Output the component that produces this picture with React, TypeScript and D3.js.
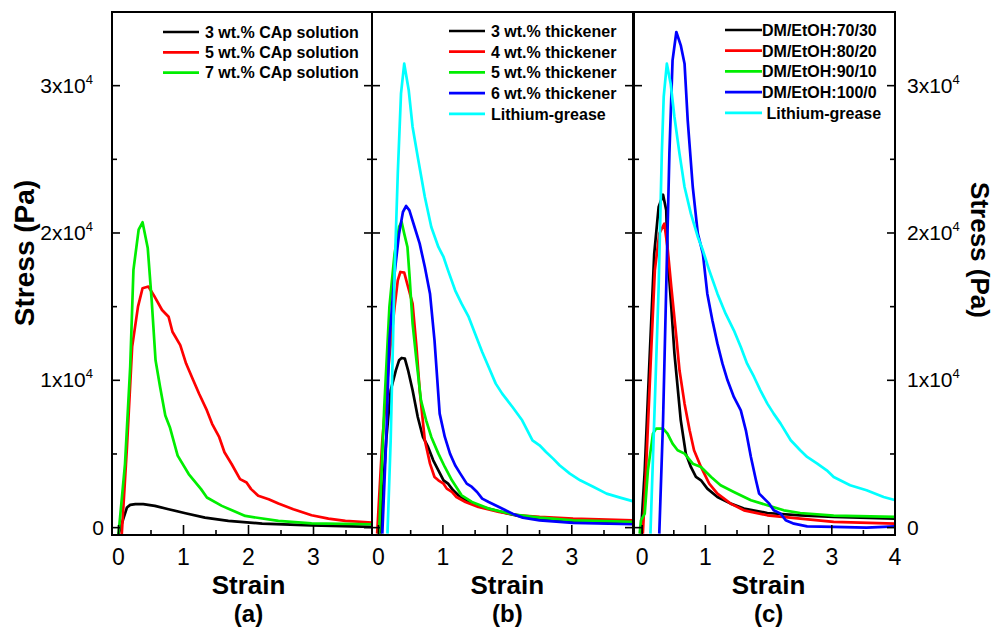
import React from "react";
import * as d3 from "d3";

type Pt = [number, number];

// Panel (a): CAp solution concentration
const aLabels = ["3 wt.% CAp solution", "5 wt.% CAp solution", "7 wt.% CAp solution"];
const aColors = ["#000000", "#ff0000", "#00ee00"];
const a3: Pt[] = [[0,-455],[0.08,682],[0.13,1364],[0.18,1545],[0.26,1591],[0.38,1591],[0.56,1477],[0.77,1250],[1.03,977],[1.33,682],[1.69,455],[2.21,273],[2.97,159],[3.93,45]];
const a5: Pt[] = [[0.05,-455],[0.13,5455],[0.21,12273],[0.30,15000],[0.37,16250],[0.46,16364],[0.54,15795],[0.67,14773],[0.77,14318],[0.83,13295],[0.95,12386],[1.04,11136],[1.15,10000],[1.24,9091],[1.36,7955],[1.44,7045],[1.55,6136],[1.63,5114],[1.74,4318],[1.87,3295],[1.97,3068],[2.04,2614],[2.15,2159],[2.31,1932],[2.46,1636],[2.69,1250],[2.97,841],[3.23,614],[3.49,455],[3.93,341]];
const a7: Pt[] = [[0,-455],[0.10,4318],[0.18,10909],[0.23,17500],[0.31,20227],[0.37,20727],[0.45,18977],[0.51,15455],[0.57,11364],[0.64,9545],[0.72,7614],[0.79,6818],[0.91,4886],[1.08,3636],[1.27,2614],[1.36,2045],[1.59,1477],[1.95,795],[2.46,455],[2.97,295],[3.93,227]];

// Panel (b): thickener content
const bLabels = ["3 wt.% thickener", "4 wt.% thickener", "5 wt.% thickener", "6 wt.% thickener", "Lithium-grease"];
const bColors = ["#000000", "#ff0000", "#00ee00", "#0000ff", "#00ffff"];
const b3: Pt[] = [[0.03,-407],[0.12,5928],[0.19,9321],[0.27,10679],[0.32,11357],[0.36,11516],[0.41,11471],[0.46,10679],[0.53,9321],[0.61,7511],[0.69,6154],[0.77,5475],[0.85,4570],[0.93,3891],[1.01,3213],[1.08,2986],[1.16,2534],[1.24,2195],[1.40,1742],[1.61,1403],[1.97,995],[2.24,724],[2.50,611],[3.02,385],[3.99,271]];
const b4: Pt[] = [[-0.02,-407],[0.06,5928],[0.17,11584],[0.25,14977],[0.30,16787],[0.34,17353],[0.40,17308],[0.46,16335],[0.53,15204],[0.59,12262],[0.64,9321],[0.72,5928],[0.80,4344],[0.87,3439],[0.93,3213],[1.01,2986],[1.06,2647],[1.14,2421],[1.21,2081],[1.35,1742],[1.55,1403],[1.87,1063],[2.18,837],[2.50,724],[3.02,611],[3.99,498]];
const b5: Pt[] = [[0.01,-407],[0.09,8190],[0.17,14977],[0.25,18597],[0.32,20407],[0.36,20747],[0.40,19955],[0.45,19050],[0.48,17240],[0.53,13846],[0.59,11357],[0.66,8643],[0.74,7285],[0.82,6154],[0.93,5023],[1.03,4118],[1.14,3213],[1.29,2195],[1.45,1742],[1.71,1290],[2.08,905],[2.50,679],[3.02,498],[3.99,385]];
const b6: Pt[] = [[0.06,-407],[0.12,5928],[0.17,12715],[0.25,17240],[0.32,19955],[0.38,21425],[0.43,21833],[0.48,21538],[0.56,20407],[0.64,19276],[0.72,17692],[0.80,15882],[0.87,12715],[0.95,7738],[1.03,6154],[1.11,5023],[1.19,4231],[1.27,3665],[1.37,2986],[1.45,2760],[1.53,2421],[1.61,1968],[1.71,1742],[1.87,1403],[2.08,950],[2.24,679],[2.50,498],[3.02,317],[3.99,226]];
const bLi: Pt[] = [[0.14,-407],[0.19,5928],[0.25,17240],[0.30,24027],[0.35,29457],[0.40,31493],[0.47,29683],[0.53,27195],[0.61,25158],[0.72,22443],[0.82,20407],[0.93,19050],[1.01,18371],[1.08,17466],[1.19,16109],[1.29,15204],[1.40,14299],[1.50,13167],[1.61,11923],[1.71,10905],[1.82,9774],[1.92,9095],[2.08,8190],[2.23,7285],[2.39,5928],[2.50,5588],[2.60,5136],[2.71,4683],[2.81,4231],[2.97,3665],[3.13,3213],[3.34,2760],[3.54,2308],[3.75,2036],[3.99,1742]];

// Panel (c): DM/EtOH ratio
const cLabels = ["DM/EtOH:70/30", "DM/EtOH:80/20", "DM/EtOH:90/10", "DM/EtOH:100/0", " Lithium-grease"];
const cColors = ["#000000", "#ff0000", "#00ee00", "#0000ff", "#00ffff"];
const c70: Pt[] = [[-0.02,-407],[0.04,3891],[0.12,11810],[0.19,18597],[0.26,21765],[0.33,22602],[0.38,21538],[0.40,18597],[0.46,14977],[0.51,11810],[0.56,9548],[0.61,7285],[0.69,5023],[0.77,4118],[0.85,3439],[0.93,3213],[1.03,2647],[1.19,2081],[1.40,1629],[1.61,1290],[1.98,995],[2.50,837],[3.03,724],[4.01,611]];
const c80: Pt[] = [[0.01,-407],[0.06,3891],[0.14,11810],[0.20,17466],[0.27,19955],[0.35,20633],[0.40,19050],[0.46,16335],[0.54,12941],[0.59,10679],[0.67,8416],[0.75,6606],[0.82,5249],[0.93,4118],[1.06,2986],[1.19,2308],[1.40,1629],[1.61,1176],[1.98,837],[2.50,611],[3.03,385],[4.01,271]];
const c90: Pt[] = [[-0.04,-407],[-0.02,498],[0.04,950],[0.09,3891],[0.17,6380],[0.22,6719],[0.33,6719],[0.40,6380],[0.48,5701],[0.56,5249],[0.67,5023],[0.80,4344],[0.93,4118],[1.09,3439],[1.24,2873],[1.45,2421],[1.72,1855],[1.98,1516],[2.24,1176],[2.50,995],[3.03,814],[4.01,724]];
const c100: Pt[] = [[0.27,-407],[0.33,7285],[0.38,16335],[0.43,25385],[0.48,31719],[0.54,33643],[0.61,32738],[0.67,31493],[0.72,27647],[0.80,23122],[0.88,19955],[0.96,18597],[1.03,15882],[1.11,14072],[1.19,12489],[1.27,11131],[1.35,10000],[1.45,8869],[1.56,7964],[1.64,6606],[1.72,4796],[1.80,3213],[1.85,2308],[1.93,1968],[2.01,1629],[2.08,1176],[2.19,950],[2.27,498],[2.40,271],[2.61,90],[3.03,45],[3.55,0],[4.01,90]];
const cLi: Pt[] = [[0.13,-407],[0.19,7285],[0.26,16335],[0.31,25385],[0.34,29231],[0.39,31493],[0.45,30136],[0.51,27873],[0.59,25385],[0.67,23122],[0.77,21312],[0.88,19729],[0.96,18824],[1.06,17466],[1.19,15882],[1.32,14525],[1.45,13394],[1.56,12262],[1.66,11131],[1.77,10226],[1.87,9321],[1.98,8416],[2.08,7738],[2.19,7059],[2.35,5928],[2.50,5249],[2.61,4796],[2.77,4344],[2.92,3891],[3.03,3439],[3.29,2873],[3.55,2534],[3.82,2081],[4.01,1855]];

const yMajor = [0, 10000, 20000, 30000];
const yMinor = [5000, 15000, 25000];
const yTickLabels = ["0", "1x10", "2x10", "3x10"];
const panelNames = ["(a)", "(b)", "(c)"];

const FONT = "'Liberation Sans', Arial, Helvetica, sans-serif";
const TOP = 12;
const BOTTOM = 535;

interface PanelSpec {
  x0: number;
  x1: number;
  domain: [number, number];
  xticks: number[];
  xminor: number[];
  series: Pt[][];
  colors: string[];
  labels: string[];
  legend: { lineX0: number; lineX1: number; textX: number; y0: number; dy: number };
  name: string;
}

const yScale = d3.scaleLinear().domain([-500, 35000]).range([BOTTOM, TOP]);

function Panel({ p, idx }: { p: PanelSpec; idx: number }) {
  const x = d3.scaleLinear().domain(p.domain).range([p.x0, p.x1]);
  const line = d3
    .line<Pt>()
    .x((d) => x(d[0]))
    .y((d) => yScale(d[1]));
  const clipId = `clip${idx}`;
  return (
    <g>
      <defs>
        <clipPath id={clipId}>
          <rect x={p.x0} y={TOP} width={p.x1 - p.x0} height={BOTTOM - TOP} />
        </clipPath>
      </defs>
      <g clipPath={`url(#${clipId})`}>
        {p.series.map((s, i) => (
          <path key={i} d={line(s) || ""} fill="none" stroke={p.colors[i]} strokeWidth={2.7} strokeLinejoin="round" />
        ))}
      </g>
      {p.xticks.map((t) => (
        <line key={"xt" + t} x1={x(t)} x2={x(t)} y1={BOTTOM} y2={BOTTOM - 10} stroke="#000" strokeWidth={1.6} />
      ))}
      {p.xminor.map((t) => (
        <line key={"xm" + t} x1={x(t)} x2={x(t)} y1={BOTTOM} y2={BOTTOM - 5} stroke="#000" strokeWidth={1.6} />
      ))}
      {p.xticks.map((t) => (
        <text key={"xl" + t} x={x(t)} y={565} textAnchor="middle" fontSize={23} fontFamily={FONT} fill="#000">
          {t}
        </text>
      ))}
      {yMajor.map((t) => (
        <g key={"ym" + t}>
          <line x1={p.x0} x2={p.x0 + 8} y1={yScale(t)} y2={yScale(t)} stroke="#000" strokeWidth={1.6} />
          <line x1={p.x1} x2={p.x1 - 8} y1={yScale(t)} y2={yScale(t)} stroke="#000" strokeWidth={1.6} />
        </g>
      ))}
      {yMinor.map((t) => (
        <g key={"yn" + t}>
          <line x1={p.x0} x2={p.x0 + 5} y1={yScale(t)} y2={yScale(t)} stroke="#000" strokeWidth={1.6} />
          <line x1={p.x1} x2={p.x1 - 5} y1={yScale(t)} y2={yScale(t)} stroke="#000" strokeWidth={1.6} />
        </g>
      ))}
      <text x={x(2)} y={594} textAnchor="middle" fontSize={26} fontWeight="bold" fontFamily={FONT} fill="#000">
        Strain
      </text>
      <text x={x(2)} y={622} textAnchor="middle" fontSize={24} fontWeight="bold" fontFamily={FONT} fill="#000">
        {p.name}
      </text>
      {p.labels.map((lab, i) => {
        const yy = p.legend.y0 + i * p.legend.dy;
        return (
          <g key={"lg" + i}>
            <line x1={p.legend.lineX0} x2={p.legend.lineX1} y1={yy} y2={yy} stroke={p.colors[i]} strokeWidth={2.7} />
            <text x={p.legend.textX} y={yy + 5.8} fontSize={16} fontWeight="bold" fontFamily={FONT} fill="#000" style={{ whiteSpace: "pre" }}>
              {lab}
            </text>
          </g>
        );
      })}
      <rect x={p.x0} y={TOP} width={p.x1 - p.x0} height={BOTTOM - TOP} fill="none" stroke="#000" strokeWidth={2} />
    </g>
  );
}

export default function App() {
  const panels: PanelSpec[] = [
    {
      x0: 112, x1: 372, domain: [-0.1, 3.9],
      xticks: [0, 1, 2, 3], xminor: [0.5, 1.5, 2.5, 3.5],
      series: [a3, a5, a7], colors: aColors, labels: aLabels,
      legend: { lineX0: 163, lineX1: 199, textX: 205, y0: 32, dy: 20.3 },
      name: panelNames[0],
    },
    {
      x0: 372, x1: 633, domain: [-0.1, 3.95],
      xticks: [0, 1, 2, 3], xminor: [0.5, 1.5, 2.5, 3.5],
      series: [b3, b4, b5, b6, bLi], colors: bColors, labels: bLabels,
      legend: { lineX0: 449, lineX1: 485, textX: 491, y0: 31, dy: 20.7 },
      name: panelNames[1],
    },
    {
      x0: 634, x1: 895, domain: [-0.13, 4],
      xticks: [0, 1, 2, 3, 4], xminor: [0.5, 1.5, 2.5, 3.5],
      series: [c70, c80, c90, c100, cLi], colors: cColors, labels: cLabels,
      legend: { lineX0: 725, lineX1: 762, textX: 762, y0: 30, dy: 20.7 },
      name: panelNames[2],
    },
  ];

  return (
    <svg width={997} height={627} style={{ position: "absolute", left: 0, top: 0, background: "#fff" }}>
      <rect x={0} y={0} width={997} height={627} fill="#fff" />
      {panels.map((p, i) => (
        <Panel key={i} p={p} idx={i} />
      ))}
      {yMajor.map((t, i) => (
        <text key={"yl" + t} x={t === 0 ? 104 : 93} y={yScale(t) + 7} textAnchor="end" fontSize={21} fontFamily={FONT} fill="#000">
          {yTickLabels[i]}
          {t !== 0 && <tspan dy={-9} fontSize={13}>4</tspan>}
        </text>
      ))}
      {yMajor.map((t, i) => (
        <text key={"yr" + t} x={907} y={yScale(t) + 7} textAnchor="start" fontSize={21} fontFamily={FONT} fill="#000">
          {yTickLabels[i]}
          {t !== 0 && <tspan dy={-9} fontSize={13}>4</tspan>}
        </text>
      ))}
      <text transform="translate(34,253) rotate(-90)" textAnchor="middle" fontSize={28} fontWeight="bold" fontFamily={FONT} fill="#000">
        Stress (Pa)
      </text>
      <text transform="translate(971,250) rotate(90)" textAnchor="middle" fontSize={26} fontWeight="bold" fontFamily={FONT} fill="#000">
        Stress (Pa)
      </text>
    </svg>
  );
}
